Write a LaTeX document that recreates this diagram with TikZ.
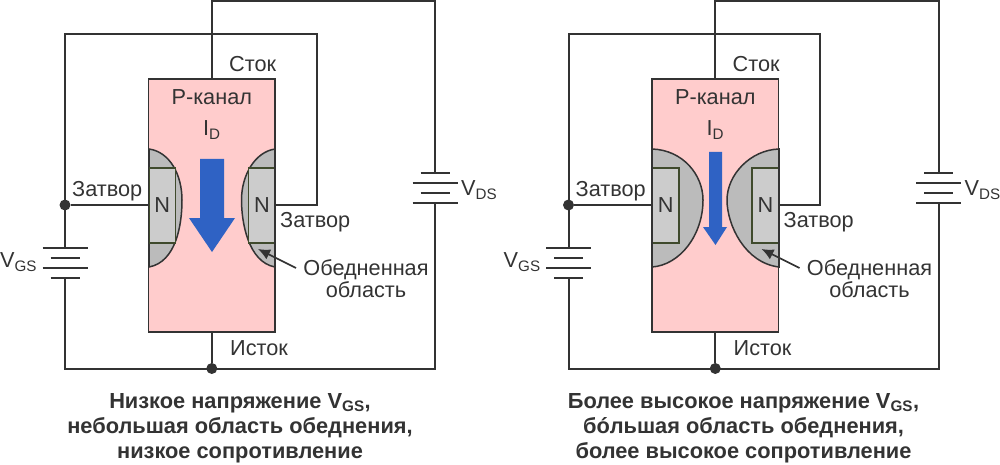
\documentclass[tikz,border=0pt]{standalone}
\usepackage{fontspec}
\usetikzlibrary{arrows.meta}
\setmainfont{Liberation Sans}
\definecolor{wire}{HTML}{333333}
\definecolor{channel}{HTML}{FFCCCC}
\definecolor{depl}{HTML}{BBBBBB}
\definecolor{gatefill}{HTML}{CCCCCC}
\definecolor{gateline}{HTML}{3F4A2C}
\definecolor{current}{HTML}{2F62C4}
\tikzset{
  wireline/.style={draw=wire, line width=2pt},
  plate/.style={wire, line width=2pt},
  chan/.style={rectangle, draw=wire, line width=1.8pt, fill=channel, minimum width=126.5pt, minimum height=253pt, inner sep=0pt},
  gatebox/.style={rectangle, draw=gateline, line width=1.4pt, fill=gatefill, minimum width=26.5pt, minimum height=75pt, inner sep=0pt},
  deplzone/.style={fill=depl, draw=wire, line width=1.5pt},
  lbl/.style={inner sep=0pt, text=wire, font=\fontsize{21.7}{21.5}\selectfont},
  caption/.style={inner sep=0pt, text=wire, align=center, font=\fontsize{21.8}{25}\selectfont\bfseries},
  dot/.style={circle, fill=wire, minimum size=11pt, inner sep=0pt},
}
\begin{document}
\begin{tikzpicture}[x=1pt, y=-1pt]
\useasboundingbox (0,0) rectangle (1000,465);
% channel
\foreach \n/\dx in {a/0, b/503.5}
    \node[chan] (\n ch) at (211.8+\dx,205.2) {};
% depletion zones
\draw[deplzone] (149,149) .. controls (170,152) and (182,175) .. (182,200) .. controls (182,225) and (176,262) .. (149,267) -- cycle;
\draw[deplzone] (275,149) .. controls (255,152) and (241.5,175) .. (241.5,200) .. controls (241.5,222) and (248,262) .. (275,267) -- cycle;
\draw[deplzone] (652,149) .. controls (683,150) and (703,175) .. (703,200) .. controls (703,235) and (680,265) .. (652,267) -- cycle;
\draw[deplzone] (779,149) .. controls (750,150) and (727,175) .. (727,200) .. controls (727,225) and (745,263) .. (779,267) -- cycle;
% current arrows
\fill[current] (200,159) -- (224,159) -- (224,218) -- (235,218) -- (212,252) -- (189,218) -- (200,218) -- cycle;
\fill[current] (709,152) -- (722,152) -- (722,227) -- (727,227) -- (715.5,245) -- (703,227) -- (709,227) -- cycle;
\foreach \n/\dx in {a/0, b/503.5} {
    \node[gatebox] (\n gl) at (162.3+\dx,205.5) {};
    \node[gatebox] (\n gr) at (261.7+\dx,205.5) {};
    \node[chan, fill=none] (\n co) at (211.8+\dx,205.2) {};
    \coordinate (\n t1) at (211.8+\dx,1);
    \coordinate (\n t2) at (435+\dx,1);
    \coordinate (\n b1) at (435+\dx,173);
    \coordinate (\n b2) at (435+\dx,203);
    \coordinate (\n b3) at (435+\dx,368.5);
    \coordinate (\n b4) at (65+\dx,368.5);
    \coordinate (\n g1) at (65+\dx,278);
    \coordinate (\n g2) at (65+\dx,248);
    \coordinate (\n g3) at (65+\dx,34);
    \coordinate (\n g4) at (316.7+\dx,34);
    \coordinate (\n g5) at (316.7+\dx,205);
    \coordinate (\n gin) at (275.3+\dx,205);
    \coordinate (\n gil) at (148.5+\dx,205);
    \coordinate (\n zone) at (258+\dx,249);
    \coordinate (\n zs) at (296+\dx,268);
    \node[dot] (\n d1) at (65+\dx,205) {};
    \node[dot] (\n d2) at (211.8+\dx,368.5) {};
    \draw[wireline] (\n ch.north) -- (\n t1) -- (\n t2) -- (\n b1);
    \draw[wireline] (\n b2) -- (\n b3) -- (\n b4) -- (\n g1);
    \draw[wireline] (\n g2) -- (\n g3) -- (\n g4) -- (\n g5) -- (\n gin);
    \foreach \from/\to in {\n d1/\n gil, \n d2/\n ch}
        \draw[wireline] (\from) -- (\to);
    % batteries
    \foreach \y/\w in {248/22.5, 258/14.5, 268/22.5, 278/14.5}
        \draw[plate] (65+\dx-\w,\y) -- (65+\dx+\w,\y);
    \foreach \y/\w in {173/14.5, 183/22.5, 193/14.5, 203/22.5}
        \draw[plate] (435+\dx-\w,\y) -- (435+\dx+\w,\y);
    % labels
    \node[lbl, anchor=west] (\n ls) at (229+\dx,64) {Сток};
    \node[lbl] (\n lp) at (211.8+\dx,97) {Р-канал};
    \node[lbl] (\n li) at (211.8+\dx,130) {I\textsubscript{D}};
    \node[lbl] (\n nl) at (162.3+\dx,205) {N};
    \node[lbl] (\n nr) at (262+\dx,205) {N};
    \node[lbl, anchor=west] (\n zl) at (72+\dx,191) {Затвор};
    \node[lbl, anchor=west] (\n zr) at (280+\dx,222) {Затвор};
    \node[lbl, align=center] (\n ob) at (366+\dx,278.5) {Обедненная\\область};
    \node[lbl, anchor=west] (\n is) at (230+\dx,348) {Исток};
    \node[lbl, anchor=west] (\n vg) at (0+\dx,262) {V\textsubscript{GS}};
    \node[lbl, anchor=west] (\n vd) at (461+\dx,190) {V\textsubscript{DS}};
    \draw[wire, line width=1.6pt, -{Latex[length=12pt,width=11pt]}] (\n zs) -- (\n zone);
}
\node[caption] (acap) at (240,428) {Низкое напряжение V\textsubscript{GS},\\небольшая область обеднения,\\низкое сопротивление};
\node[caption] (bcap) at (743.5,428) {Более высокое напряжение V\textsubscript{GS},\\бóльшая область обеднения,\\более высокое сопротивление};
\end{tikzpicture}
\end{document}
